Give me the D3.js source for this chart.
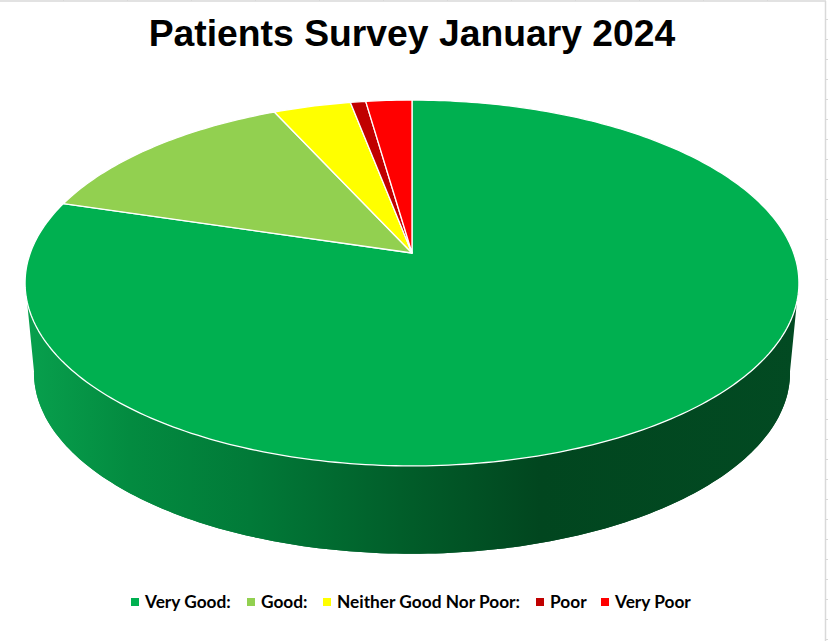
<!DOCTYPE html>
<html><head><meta charset="utf-8">
<script src="https://cdn.jsdelivr.net/npm/d3@7/dist/d3.min.js"></script>
<style>html,body{margin:0;padding:0;background:#fff;overflow:hidden}svg{display:block}</style>
</head><body><svg id="c" width="828" height="641"></svg>
<script>
const chartTitle = "Patients Survey January 2024";
const categories = ["Very Good:", "Good:", "Neither Good Nor Poor:", "Poor", "Very Poor"];
const values = [79.7, 13.5, 3.8, 0.75, 2.25];
const colors = ["#00B050", "#92D050", "#FFFF00", "#C00000", "#FF0000"];
const legendSwatchX = [131, 247, 323, 536, 601];

const svg = d3.select("#c");
const W = 828, H = 641;

// sheet gridlines behind the chart
const grid = svg.append("g").attr("stroke", "#d9d9d9").attr("fill", "none");
grid.append("line").attr("x1", 0).attr("x2", 826).attr("y1", 1).attr("y2", 1).attr("stroke-width", 1.5);
grid.append("line").attr("x1", 825.5).attr("x2", 825.5).attr("y1", 1).attr("y2", H).attr("stroke-width", 1.5);
d3.range(63.5, 826, 64).forEach(x => grid.append("line").attr("x1", x).attr("x2", x).attr("y1", 0).attr("y2", 1));
d3.range(19.5, H, 20).forEach(y => grid.append("line").attr("x1", 826).attr("x2", W).attr("y1", y).attr("y2", y));

// perspective disc projection
const P = {cx: 412, cy: 253, B: 381.7, A: 178, k: 0.1639};
function project(a, depth) {
  const u = Math.sin(a), v = -Math.cos(a), w = 1 - P.k * v;
  const sx = depth ? 0.977 : 1, sy = depth ? 0.99 : 1, off = depth ? 90 : 0;
  return [P.cx + sx * P.B * u / w, P.cy + sy * P.A * v / w + off];
}
const line = d3.line();
const deg = d => d * Math.PI / 180;
function sample(a0, a1, depth, n) {
  const s = d3.scaleLinear().domain([0, n]).range([a0, a1]);
  return d3.range(n + 1).map(i => project(s(i), depth));
}

const arcs = d3.pie().sort(null)(values);

// side wall gradient
const defs = svg.append("defs");
const grad = defs.append("linearGradient").attr("id", "side").attr("gradientUnits", "userSpaceOnUse")
  .attr("x1", 25).attr("x2", 799).attr("y1", 0).attr("y2", 0);
[[25,"#08a04d"],[130,"#038b40"],[250,"#017a38"],[400,"#015e2a"],[540,"#01461f"],[799,"#024a22"]]
  .forEach(([x,c]) => grad.append("stop").attr("offset", (x-25)/774).attr("stop-color", c));

// side wall
const a0 = deg(99), a1 = deg(261);
svg.append("path").attr("fill", "url(#side)")
  .attr("d", line(sample(a0, a1, false, 160).concat(sample(a1, a0, true, 160))) + "Z");
svg.append("path").attr("fill", "url(#side)")
  .attr("d", line(sample(a0, a1, true, 160)) + "Z");

// top slices
svg.append("g").selectAll("path").data(arcs).join("path")
  .attr("fill", (d, i) => colors[i])
  .attr("stroke", "#fff").attr("stroke-width", 1.3).attr("stroke-linejoin", "round")
  .attr("d", d => {
    const n = Math.max(4, Math.ceil((d.endAngle - d.startAngle) * 60));
    return line([[P.cx, P.cy]].concat(sample(d.startAngle, d.endAngle, false, n))) + "Z";
  });

// title
svg.append("text").attr("x", 412).attr("y", 46).attr("text-anchor", "middle")
  .attr("font-family", "'Liberation Sans', Arial, sans-serif").attr("font-weight", "bold")
  .attr("font-size", 37.3).attr("fill", "#000").text(chartTitle);

// legend
const lg = svg.append("g").selectAll("g").data(categories).join("g")
  .attr("transform", (d, i) => `translate(${legendSwatchX[i]},0)`);
lg.append("rect").attr("x", 0).attr("y", 598).attr("width", 8).attr("height", 8)
  .attr("fill", (d, i) => colors[i]);
lg.append("text").attr("x", 14).attr("y", 607.5)
  .attr("font-family", "Lato, 'Noto Sans', sans-serif").attr("font-weight", "bold")
  .attr("font-size", 17.3).attr("fill", "#000").text(d => d);
</script></body></html>
